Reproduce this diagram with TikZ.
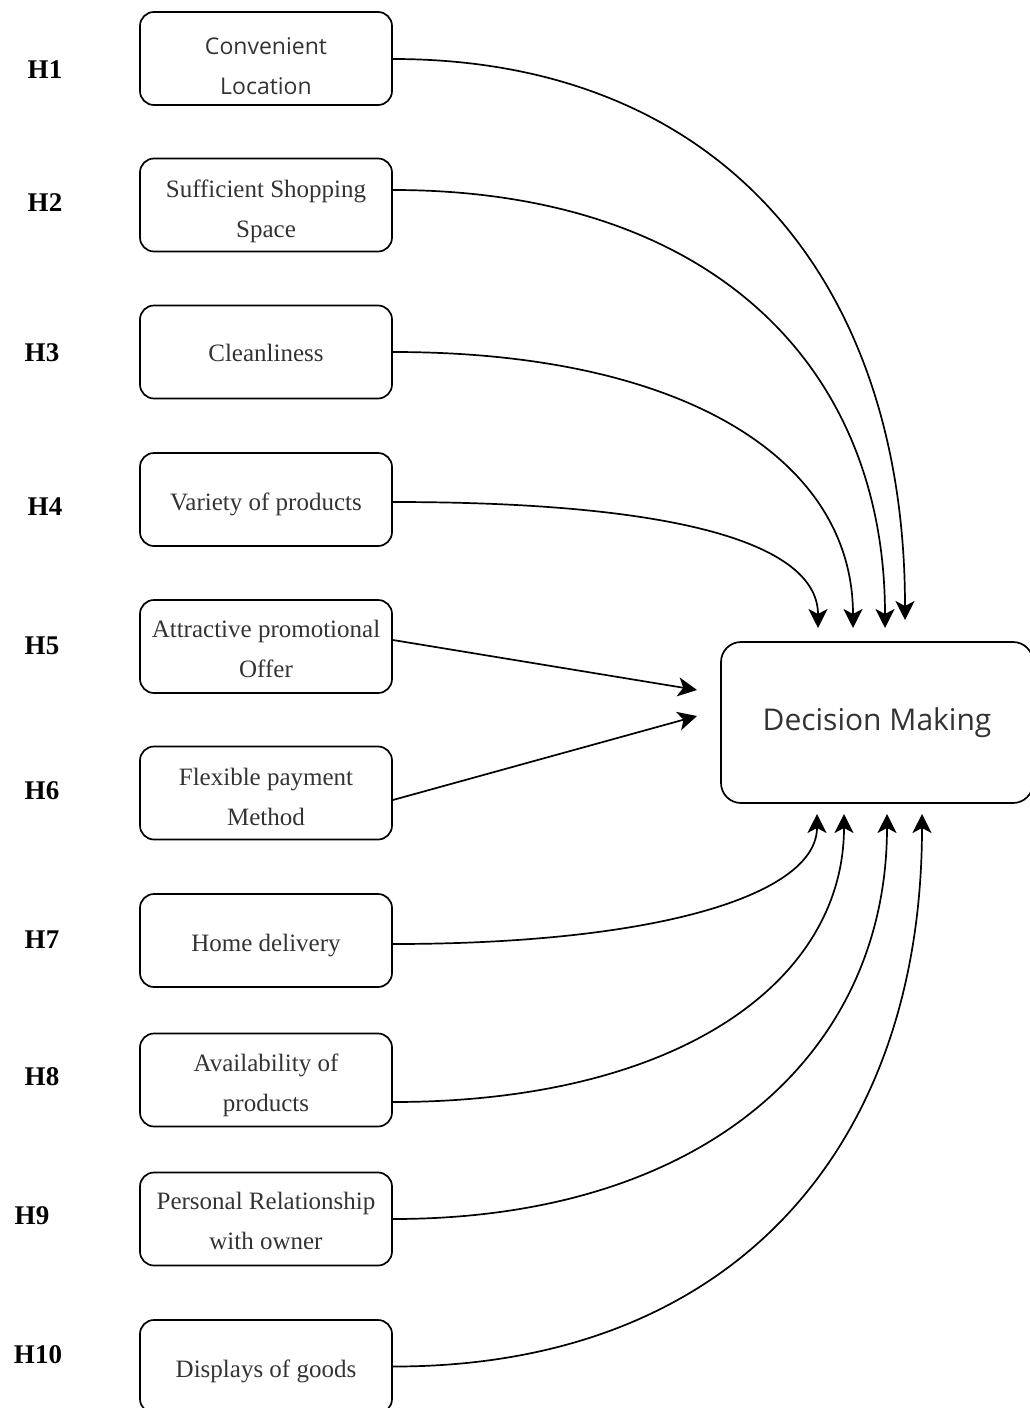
\documentclass[tikz,border=0pt]{standalone}
\usepackage{fontspec}
\setmainfont{Liberation Serif}
\newfontfamily\sansf{Open Sans}
\usetikzlibrary{arrows.meta}
\definecolor{txtgray}{HTML}{333333}
\newcommand{\lowtxt}[2][4]{\raisebox{-#1pt}[\height][\depth]{\begin{tabular}{@{}c@{}}#2\end{tabular}}}
\begin{document}
\begin{tikzpicture}[x=1pt,y=-1pt,
  box/.style={draw, line width=1.7pt, rounded corners=14pt, minimum width=252pt,
    minimum height=93pt, align=center, inner sep=0pt, text=txtgray,
    font=\fontsize{25}{40}\selectfont},
  sbox/.style={box, font=\sansf\fontsize{23}{40}\selectfont},
  hlab/.style={font=\fontsize{27}{30}\selectfont\bfseries},
  conn/.style={line width=1.7pt, -{Stealth[length=19pt,width=19pt,inset=5pt]}}]
\useasboundingbox (0,0) rectangle (1029,1408);

% left boxes
\node[sbox] (b1) at (266,58.5)  {\lowtxt[8]{Convenient\\Location}};
\node[box]  (b2) at (266,205)   {\lowtxt[4]{Sufficient Shopping\\Space}};
\node[box]  (b3) at (266,352)   {\lowtxt[1]{Cleanliness}};
\node[box]  (b4) at (266,499.5) {\lowtxt[3]{Variety of products}};
\node[box]  (b5) at (266,646.5) {\lowtxt[3]{Attractive promotional\\Offer}};
\node[box]  (b6) at (266,793)   {\lowtxt[4]{Flexible payment\\Method}};
\node[box]  (b7) at (266,940.5) {\lowtxt[3]{Home delivery}};
\node[box]  (b8) at (266,1080)  {\lowtxt[3]{Availability of\\products}};
\node[box]  (b9) at (266,1219)  {\lowtxt[2]{Personal Relationship\\with owner}};
\node[box]  (b10) at (266,1366.5) {\lowtxt[3]{Displays of goods}};

% hypothesis labels
\node[hlab] (h1) at (45,70) {H1};
\node[hlab] (h2) at (45,203) {H2};
\node[hlab] (h3) at (42,353) {H3};
\node[hlab] (h4) at (45,507) {H4};
\node[hlab] (h5) at (42,646) {H5};
\node[hlab] (h6) at (42,791) {H6};
\node[hlab] (h7) at (42,940) {H7};
\node[hlab] (h8) at (42,1077) {H8};
\node[hlab] (h9) at (32,1216) {H9};
\node[hlab] (h10) at (38,1355) {H10};

% decision box
\node[draw, line width=1.7pt, rounded corners=20pt, minimum width=312pt,
  minimum height=161pt, text=txtgray, font=\sansf\fontsize{30}{36}\selectfont]
  (dm) at (877,722.5) {Decision Making};

% arrow tip coordinates
\coordinate (t1) at (905,620);
\coordinate (t2) at (885,628);
\coordinate (t3) at (853,628);
\coordinate (t4) at (818,628);
\coordinate (t5) at (697,690);
\coordinate (t6) at (697,716);
\coordinate (t7) at (817,814);
\coordinate (t8) at (844,814);
\coordinate (t9) at (887,814);
\coordinate (t10) at (922,814);

% connectors
\draw[conn] ([yshift=-0.5pt]b1.east) .. controls (720,59) and (905,280) .. (t1);
\draw[conn] ([yshift=15pt]b2.east) .. controls (708,190) and (885,363) .. (t2);
\draw[conn] (b3.east) .. controls (687,352) and (853,461) .. (t3);
\draw[conn] ([yshift=-2.5pt]b4.east) .. controls (700,502) and (818,550) .. (t4);
\draw[conn] ([yshift=6.5pt]b5.east) -- (t5);
\draw[conn] ([yshift=-7pt]b6.east) -- (t6);
\draw[conn] ([yshift=-3.5pt]b7.east) .. controls (664,944) and (817,893) .. (t7);
\draw[conn] ([yshift=-22pt]b8.east) .. controls (681,1102) and (844,980) .. (t8);
\draw[conn] (b9.east) .. controls (709,1219) and (887,1050) .. (t9);
\draw[conn] (b10.east) .. controls (731,1367) and (922,1149) .. (t10);
\end{tikzpicture}
\end{document}
